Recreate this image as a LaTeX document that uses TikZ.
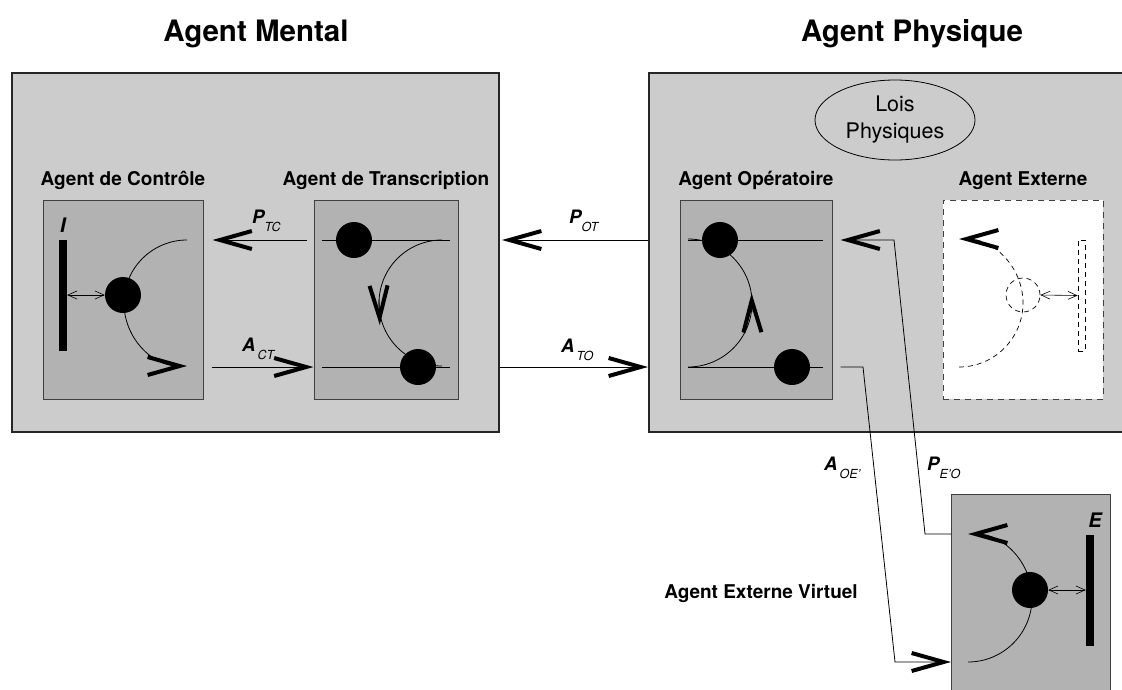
\documentclass[tikz,border=0pt]{standalone}
\usepackage{fontspec}
\setmainfont{TeX Gyre Heros}
\usetikzlibrary{shapes,arrows.meta}

\tikzset{
	fleche/.tip={Straight Barb[length=32pt,width=18pt,line width=4pt]},
	petite/.tip={Straight Barb[length=9pt,width=8pt,line width=0.6pt]},
	grand/.style={rectangle,draw=black!85,line width=2pt,fill=black!20,anchor=north west,inner sep=0pt},
	agent/.style={rectangle,draw=black!75,line width=1pt,fill=black!30,inner sep=0pt,minimum width=160pt,minimum height=199pt},
	externe/.style={rectangle,draw=black!75,line width=1pt,dash pattern=on 6pt off 5pt,fill=white,inner sep=0pt,minimum width=160pt,minimum height=199pt},
	boule/.style={circle,fill=black,inner sep=0pt,minimum size=36pt},
	boulevide/.style={circle,draw,line width=0.7pt,dash pattern=on 5pt off 4pt,inner sep=0pt,minimum size=34pt},
	mur/.style={rectangle,fill=black,inner sep=0pt,minimum width=8pt,minimum height=111pt},
	murvide/.style={rectangle,draw,line width=0.7pt,dash pattern=on 5pt off 4pt,inner sep=0pt,minimum width=7pt,minimum height=111pt},
	titre/.style={font=\fontsize{29.5}{30}\selectfont\bfseries,anchor=base},
	etiquette/.style={font=\fontsize{19}{20}\selectfont\bfseries,anchor=base},
	lettre/.style={font=\fontsize{20}{20}\selectfont\bfseries\itshape,anchor=base},
	flux/.style={anchor=base west,inner sep=0pt},
	rail/.style={line width=0.8pt},
	pointille/.style={line width=0.7pt,dash pattern=on 5pt off 4pt},
	lien/.style={line width=0.8pt,-{fleche}},
	liaison/.style={line width=0.6pt,{petite}-{petite}},
}
\newcommand{\debit}[3][2pt]{{\fontsize{18.5}{18}\selectfont\bfseries\itshape #2}\kern#1\raisebox{-8pt}{\fontsize{12.5}{12}\selectfont\itshape #3}}

\begin{document}
\begin{tikzpicture}[x=1pt,y=-1pt]
	\useasboundingbox (0,0) rectangle (1122,689);
	\node[grand,minimum width=487pt,minimum height=359pt] (mental) at (11,72) {};
	\node[grand,minimum width=500pt,minimum height=359pt] (physique) at (648,72) {};
	\node[titre] (tMental) at (256,41) {Agent Mental};
	\node[titre] (tPhysique) at (912,41) {Agent Physique};

	\node[agent] (controle) at (123,299.5) {};
	\node[agent,minimum width=144pt] (transcription) at (386,299.5) {};
	\node[agent,minimum width=152pt] (operatoire) at (756,299.5) {};
	\node[externe] (externe) at (1023,299.5) {};
	\node[agent,anchor=north west,minimum width=159pt,minimum height=210pt] (virtuel) at (951,494) {};

	\node[etiquette] (lControle) at ([yshift=14pt]controle.north) {Agent de Contrôle};
	\node[etiquette] (lTranscription) at ([yshift=14pt]transcription.north) {Agent de Transcription};
	\node[etiquette] (lOperatoire) at ([yshift=14pt]operatoire.north) {Agent Opératoire};
	\node[etiquette] (lExterne) at ([yshift=14pt]externe.north) {Agent Externe};
	\node[etiquette] (lVirtuel) at (761,598) {Agent Externe Virtuel};
	\node[draw,ellipse,line width=0.8pt,minimum width=160pt,minimum height=80pt,inner sep=0pt,align=center,font=\fontsize{21.5}{27}\selectfont] (lois) at (895,120) {Lois\\Physiques};

	\coordinate (haut) at (0,240);
	\coordinate (bas) at (0,367);

	\node[mur] (murI) at (63,295) {};
	\node[lettre] (lI) at (63,232) {I};
	\draw[rail,-{fleche}] (187,240) .. controls (152.2,240) and (124,268.2) .. (124,303) .. controls (124,337.8) and (152.2,366) .. (187,366);
	\node[boule] (bC) at (123,295) {};
	\draw[liaison] (murI.east) -- (bC.west);

	\draw[rail] (322,240) -- (450,240);
	\draw[rail] (322,367) -- (450,367);
	\draw[rail] (442,240) .. controls (407.2,240) and (379,268.2) .. (379,303) .. controls (379,337.8) and (407.2,366) .. (442,366);
	\draw[rail,-{fleche}] (379,300) -- (379.8,325);
	\node[boule] (bT1) at (354,240) {};
	\node[boule] (bT2) at (418,367) {};

	\draw[rail] (688,240) -- (823,240);
	\draw[rail] (688,367) -- (823,367);
	\draw[rail] (688,367) .. controls (723.3,367) and (752,338.3) .. (752,303) .. controls (752,267.7) and (723.3,239) .. (688,239);
	\draw[rail,-{fleche}] (752,312) -- (751.6,293);
	\node[boule] (bO1) at (720,240) {};
	\node[boule] (bO2) at (792,367) {};

	\draw[pointille,-{fleche}] (959,367) .. controls (994.3,367) and (1023,338.3) .. (1023,303) .. controls (1023,267.7) and (994.3,239) .. (959,239);
	\node[boulevide] (bE) at (1023,295) {};
	\node[murvide] (murE) at (1081.5,295.5) {};
	\draw[liaison] (bE.east) -- (murE.west);

	\draw[rail,-{fleche}] (968,662) .. controls (1003.3,662) and (1032,633.3) .. (1032,598) .. controls (1032,562.7) and (1003.3,534) .. (968,534);
	\node[boule] (bV) at (1030,590) {};
	\node[mur] (murV) at (1090,590) {};
	\node[lettre] (lE) at (1095,527) {E};
	\draw[liaison] (bV.east) -- (murV.west);

	\draw[lien] ([xshift=-7pt]haut -| transcription.west) -- ([xshift=9pt]haut -| controle.east);
	\draw[lien] ([xshift=8pt]bas -| controle.east) -- (bas -| transcription.west);
	\draw[lien] (haut -| physique.west) -- ([xshift=2pt]haut -| mental.east);
	\draw[lien] (bas -| mental.east) -- (bas -| physique.west);
	\coordinate (pliP1) at (925,534);
	\coordinate (pliP2) at (894,240);
	\draw[lien] (pliP1 -| virtuel.west) -- (pliP1) -- (pliP2) -- ([xshift=8pt]haut -| operatoire.east);
	\coordinate (pliA1) at (863,367);
	\coordinate (pliA2) at (895,662);
	\draw[lien] ([xshift=8pt]bas -| operatoire.east) -- (pliA1) -- (pliA2) -- (pliA2 -| virtuel.west);

	\node[flux] (fTC) at (252,223) {\debit[0pt]{P}{TC}};
	\node[flux] (fCT) at (242,351) {\debit{A}{CT}};
	\node[flux] (fOT) at (569,223) {\debit[0pt]{P}{OT}};
	\node[flux] (fTO) at (561,352) {\debit{A}{TO}};
	\node[flux] (fOE) at (824,470) {\debit{A}{OE'}};
	\node[flux] (fEO) at (927,470) {\debit[0pt]{P}{E'O}};
\end{tikzpicture}
\end{document}
